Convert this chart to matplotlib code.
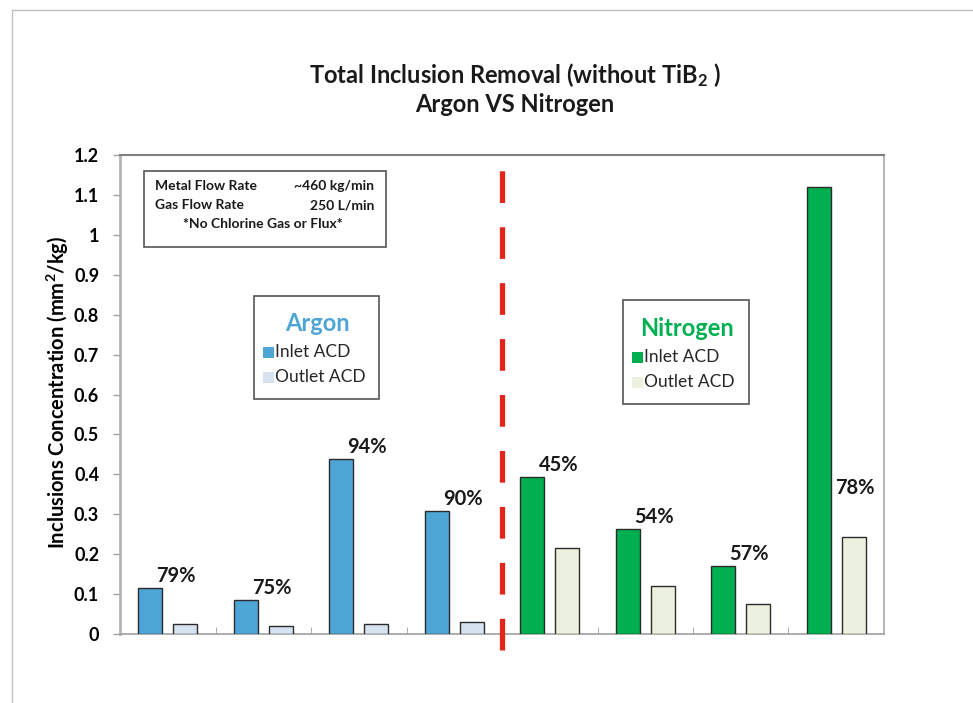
import matplotlib.pyplot as plt
import numpy as np
from matplotlib.lines import Line2D
from matplotlib.patches import Rectangle

plt.rcParams["font.family"] = ["Lato", "DejaVu Sans"]
plt.rcParams["mathtext.default"] = "regular"

W, H = 973, 703

# inclusion concentration per trial (mm2/kg)
argon_inlet = [0.115, 0.084, 0.438, 0.308]
argon_outlet = [0.024, 0.021, 0.026, 0.031]
nitrogen_inlet = [0.393, 0.262, 0.170, 1.120]
nitrogen_outlet = [0.215, 0.120, 0.074, 0.242]
removal_labels = ["79%", "75%", "94%", "90%", "45%", "54%", "57%", "78%"]
y_ticks = [0, 0.1, 0.2, 0.3, 0.4, 0.5, 0.6, 0.7, 0.8, 0.9, 1.0, 1.1, 1.2]

ARGON_IN = "#4ea6d6"
ARGON_OUT = "#d6e2ef"
N2_IN = "#00b050"
N2_OUT = "#ebf1de"
EDGE = "#2b2b2b"
RED = "#e3241b"


def px(x, y):
    return x / W, 1 - y / H


fig = plt.figure(figsize=(W / 100, H / 100), dpi=100)
ax = fig.add_axes([120 / W, 1 - 634 / H, 764 / W, 479 / H])

inlet = argon_inlet + nitrogen_inlet
outlet = argon_outlet + nitrogen_outlet
x = np.arange(len(inlet))
in_colors = [ARGON_IN] * 4 + [N2_IN] * 4
out_colors = [ARGON_OUT] * 4 + [N2_OUT] * 4

bw = 0.25
ax.bar(x - 0.185, inlet, bw, color=in_colors, edgecolor=EDGE, linewidth=1.0, zorder=3)
ax.bar(x + 0.185, outlet, bw, color=out_colors, edgecolor=EDGE, linewidth=1.0, zorder=3)

# removal percentages above the inlet bars
for i, lab in enumerate(removal_labels):
    if i == len(removal_labels) - 1:
        lx, ly = x[i] + 0.2, 0.366
    else:
        lx, ly = x[i] + 0.09, inlet[i] + 0.03
    ax.text(lx, ly, lab, ha="center", va="center", fontsize=14.5,
            fontweight="bold", color="#1a1a1a", zorder=4)

ax.set_xlim(-0.5, len(inlet) - 0.5)
ax.set_ylim(0, 1.2)
ax.set_yticks(y_ticks)
ax.set_yticklabels([f"{v:g}" for v in y_ticks], fontsize=13, fontweight="bold")
ax.set_xticks([])
ax.set_xticks(np.arange(0.5, len(inlet) - 0.5, 1.0), minor=True)
ax.tick_params(axis="x", which="minor", direction="in", length=5, color="#a0a0a0")
ax.tick_params(axis="y", direction="out", length=5, width=1, color="#a0a0a0", pad=10)

ax.spines["left"].set_color("#b4b4b4")
ax.spines["left"].set_linewidth(2)
ax.spines["top"].set_color("#808080")
ax.spines["top"].set_linewidth(1.5)
ax.spines["right"].set_color("#a8a8a8")
ax.spines["right"].set_linewidth(1.2)
ax.spines["bottom"].set_color("#a0a0a0")
ax.spines["bottom"].set_linewidth(1.2)

ax.set_ylabel("Inclusions Concentration (mm$^2$/kg)", fontsize=14.5,
              fontweight="bold")
ax.yaxis.set_label_coords(-0.064, 0.505)

# divider between argon and nitrogen trials
ax.plot([3.5, 3.5], [-0.04, 1.19], color=RED, lw=3.8, ls=(0, (6, 4.6)),
        clip_on=False, zorder=5)

# title
fig.text(*px(515, 75), "Total Inclusion Removal (without TiB$_2$ )", ha="center",
         va="center", fontsize=17, fontweight="bold", color="#1a1a1a")
fig.text(*px(515, 104), "Argon VS Nitrogen", ha="center", va="center",
         fontsize=17, fontweight="bold", color="#1a1a1a")

# process conditions box
fig.add_artist(Rectangle(px(144, 247), 242 / W, 76 / H, transform=fig.transFigure,
                         fill=False, edgecolor="#555555", lw=1.2))
info = dict(fontsize=10, fontweight="bold", color="#1a1a1a", va="center")
fig.text(*px(155, 186), "Metal Flow Rate", ha="left", **info)
fig.text(*px(374, 186), "~460 kg/min", ha="right", **info)
fig.text(*px(155, 205), "Gas Flow Rate", ha="left", **info)
fig.text(*px(374, 205), "250 L/min", ha="right", **info)
fig.text(*px(263, 224), "*No Chlorine Gas or Flux*", ha="center", **info)


def legend_box(left, top, w, h, name, c_in, c_out, tx, ty):
    fig.add_artist(Rectangle(px(left, top + h), w / W, h / H,
                             transform=fig.transFigure, fill=False,
                             edgecolor="#555555", lw=1.2))
    fig.text(*px(tx, ty), name, ha="center", va="center", fontsize=17,
             fontweight="bold", color=c_in)
    for k, (lab, c) in enumerate([("Inlet ACD", c_in), ("Outlet ACD", c_out)]):
        yy = ty + 28 + 25 * k
        fig.add_artist(Rectangle(px(left + 9, yy + 5.5), 11 / W, 11 / H,
                                 transform=fig.transFigure, color=c, lw=0))
        fig.text(*px(left + 21, yy), lab, ha="left", va="center",
                 fontsize=12.5, color="#262626")


legend_box(254, 296, 125, 103, "Argon", ARGON_IN, ARGON_OUT, 317, 324)
legend_box(623, 300, 126, 104, "Nitrogen", N2_IN, N2_OUT, 687, 329)

# slide frame
fig.add_artist(Line2D([12 / W, 1], [1 - 10 / H, 1 - 10 / H],
                      transform=fig.transFigure, color="#c0c0c0", lw=1))
fig.add_artist(Line2D([12 / W, 12 / W], [0, 1 - 10 / H],
                      transform=fig.transFigure, color="#c0c0c0", lw=1))

fig.savefig("out.png", dpi=100)
